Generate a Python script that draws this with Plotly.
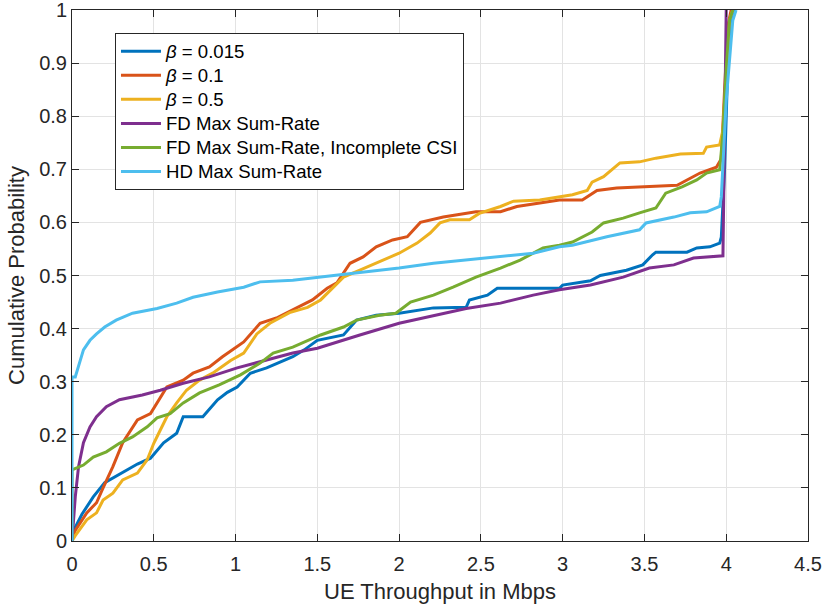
import plotly.graph_objects as go

# ---------------- data ----------------
names = ["<i>β</i> = 0.015", "<i>β</i> = 0.1", "<i>β</i> = 0.5",
         "FD Max Sum-Rate", "FD Max Sum-Rate, Incomplete CSI", "HD Max Sum-Rate"]

blue_x = [0, 0.02, 0.06, 0.13, 0.2, 0.31, 0.4, 0.48, 0.56, 0.64, 0.68, 0.80, 0.89, 0.95, 1.01, 1.09,
          1.19, 1.35, 1.42, 1.50, 1.66, 1.74, 1.86, 2.0, 2.21, 2.41, 2.43, 2.54, 2.60, 2.98, 3.0, 3.17,
          3.23, 3.39, 3.49, 3.55, 3.57, 3.76, 3.82, 3.90, 3.96, 3.97, 3.99, 4.01, 4.03, 4.05]
blue_y = [0, 0.026, 0.05, 0.083, 0.11, 0.13, 0.145, 0.156, 0.185, 0.203, 0.234, 0.234, 0.266, 0.28, 0.29,
          0.316, 0.326, 0.347, 0.36, 0.378, 0.388, 0.416, 0.425, 0.429, 0.439, 0.44, 0.454, 0.463, 0.476,
          0.476, 0.482, 0.49, 0.50, 0.51, 0.52, 0.539, 0.544, 0.544, 0.552, 0.554, 0.561, 0.572, 0.70,
          0.90, 0.98, 1.0]

orange_x = [0, 0.02, 0.09, 0.15, 0.19, 0.25, 0.31, 0.40, 0.48, 0.54, 0.58, 0.68, 0.74, 0.84, 0.92, 1.05,
            1.15, 1.25, 1.35, 1.47, 1.56, 1.62, 1.70, 1.78, 1.86, 1.96, 2.05, 2.13, 2.27, 2.47, 2.62, 2.72,
            2.98, 3.12, 3.21, 3.33, 3.70, 3.78, 3.84, 3.94, 3.97, 3.99, 4.01, 4.03]
orange_y = [0, 0.02, 0.053, 0.072, 0.10, 0.14, 0.185, 0.228, 0.24, 0.27, 0.29, 0.303, 0.316, 0.328, 0.347,
            0.375, 0.41, 0.42, 0.435, 0.454, 0.476, 0.486, 0.523, 0.535, 0.554, 0.567, 0.573, 0.60, 0.61,
            0.62, 0.62, 0.63, 0.642, 0.642, 0.66, 0.665, 0.67, 0.684, 0.693, 0.704, 0.72, 0.85, 0.97, 1.0]

yellow_x = [0, 0.02, 0.09, 0.15, 0.19, 0.25, 0.31, 0.40, 0.46, 0.50, 0.54, 0.58, 0.64, 0.70, 0.78, 0.86,
            0.97, 1.05, 1.13, 1.21, 1.33, 1.44, 1.52, 1.60, 1.66, 1.76, 1.88, 2.0, 2.11, 2.19, 2.25, 2.31,
            2.43, 2.49, 2.62, 2.70, 2.86, 3.06, 3.15, 3.18, 3.25, 3.35, 3.47, 3.57, 3.72, 3.86, 3.88, 3.96,
            3.98, 4.0, 4.02, 4.04]
yellow_y = [0, 0.01, 0.04, 0.053, 0.077, 0.09, 0.115, 0.128, 0.153, 0.184, 0.209, 0.234, 0.26, 0.284,
            0.303, 0.316, 0.34, 0.354, 0.39, 0.41, 0.43, 0.44, 0.454, 0.478, 0.497, 0.51, 0.526, 0.542,
            0.561, 0.58, 0.599, 0.605, 0.605, 0.617, 0.63, 0.64, 0.642, 0.652, 0.66, 0.676, 0.686, 0.712,
            0.714, 0.721, 0.729, 0.73, 0.742, 0.746, 0.774, 0.88, 0.98, 1.0]

purple_x = [0, 0.01, 0.02, 0.04, 0.07, 0.11, 0.15, 0.21, 0.29, 0.43, 0.54, 0.68, 0.84, 1.01, 1.15, 1.35,
            1.50, 1.60, 1.76, 2.0, 2.21, 2.41, 2.62, 2.82, 2.98, 3.17, 3.37, 3.53, 3.68, 3.80, 3.98, 4.0]
purple_y = [0, 0.04, 0.083, 0.14, 0.185, 0.215, 0.234, 0.253, 0.266, 0.275, 0.284, 0.297, 0.309, 0.326,
            0.337, 0.354, 0.363, 0.373, 0.388, 0.41, 0.425, 0.438, 0.448, 0.463, 0.473, 0.482, 0.497,
            0.514, 0.52, 0.533, 0.537, 1.0]

green_x = [0, 0, 0.07, 0.13, 0.21, 0.29, 0.37, 0.46, 0.52, 0.60, 0.68, 0.78, 0.90, 1.03, 1.15, 1.23, 1.35,
           1.45, 1.52, 1.66, 1.74, 1.88, 1.98, 2.07, 2.21, 2.33, 2.47, 2.62, 2.74, 2.88, 2.98, 3.06, 3.18,
           3.25, 3.37, 3.47, 3.57, 3.63, 3.73, 3.82, 3.88, 3.96, 3.98, 4.0, 4.02, 4.04]
green_y = [0, 0.134, 0.143, 0.158, 0.168, 0.184, 0.196, 0.215, 0.232, 0.24, 0.26, 0.279, 0.294, 0.313,
           0.335, 0.354, 0.365, 0.378, 0.388, 0.403, 0.416, 0.425, 0.429, 0.45, 0.463, 0.478, 0.497, 0.514,
           0.529, 0.552, 0.557, 0.563, 0.582, 0.599, 0.608, 0.618, 0.627, 0.655, 0.667, 0.68, 0.693,
           0.699, 0.768, 0.89, 0.98, 1.0]

cyan_x = [0, 0, 0.02, 0.04, 0.07, 0.11, 0.15, 0.20, 0.27, 0.37, 0.52, 0.64, 0.74, 0.89, 1.05, 1.15, 1.35,
          1.60, 1.80, 2.0, 2.21, 2.41, 2.62, 2.82, 2.98, 3.06, 3.27, 3.47, 3.51, 3.68, 3.78, 3.88, 3.96,
          3.97, 4.0, 4.04, 4.06]
cyan_y = [0, 0.309, 0.309, 0.331, 0.36, 0.378, 0.39, 0.403, 0.416, 0.429, 0.438, 0.448, 0.459, 0.469,
          0.478, 0.488, 0.491, 0.50, 0.507, 0.514, 0.523, 0.529, 0.535, 0.542, 0.554, 0.557, 0.573, 0.586,
          0.599, 0.61, 0.618, 0.62, 0.63, 0.648, 0.83, 0.98, 1.0]

x_ticks = [0, 0.5, 1, 1.5, 2, 2.5, 3, 3.5, 4, 4.5]
x_tick_labels = ["0", "0.5", "1", "1.5", "2", "2.5", "3", "3.5", "4", "4.5"]
y_ticks = [0, 0.1, 0.2, 0.3, 0.4, 0.5, 0.6, 0.7, 0.8, 0.9, 1]
y_tick_labels = ["0", "0.1", "0.2", "0.3", "0.4", "0.5", "0.6", "0.7", "0.8", "0.9", "1"]

colors = ["#0072BD", "#D95319", "#EDB120", "#7E2F8E", "#77AC30", "#4DBEEE"]

series = [(blue_x, blue_y), (orange_x, orange_y), (yellow_x, yellow_y),
          (purple_x, purple_y), (green_x, green_y), (cyan_x, cyan_y)]

# ---------------- figure ----------------
FONT = "Liberation Sans, Arial, sans-serif"
TXT = "#262626"

fig = go.Figure()
for (xs, ys), nm, c in zip(series, names, colors):
    fig.add_trace(go.Scatter(x=xs, y=ys, mode="lines",
                             name='<span style="font-size:18.6px">' + nm + '</span>',
                             line=dict(color=c, width=3)))

axis_common = dict(showline=True, linecolor=TXT, linewidth=1, mirror="ticks",
                   ticks="inside", ticklen=7, tickcolor=TXT, tickwidth=1,
                   showgrid=True, gridcolor="#e3e3e3", gridwidth=1, zeroline=False,
                   automargin=False, ticklabeloverflow="allow",
                   tickfont=dict(family=FONT, size=20, color=TXT))

fig.update_layout(
    width=824, height=606,
    margin=dict(l=72, r=16, t=10, b=65),
    paper_bgcolor="white", plot_bgcolor="white",
    font=dict(family=FONT, color=TXT),
    xaxis=dict(range=[0, 4.5], tickvals=x_ticks, ticktext=x_tick_labels,
               ticklabelstandoff=5,
               title=dict(text="UE Throughput in Mbps", font=dict(family=FONT, size=22, color=TXT),
                          standoff=9),
               **axis_common),
    yaxis=dict(range=[0, 1], tickvals=y_ticks, ticktext=y_tick_labels,
               title=dict(text="Cumulative Probability", font=dict(family=FONT, size=22, color=TXT),
                          standoff=8),
               **axis_common),
    legend=dict(x=0.0584, y=0.9563, xanchor="left", yanchor="top",
                bgcolor="white", bordercolor=TXT, borderwidth=1,
                font=dict(family=FONT, size=16.2, color="#000000"),
                itemwidth=40, tracegroupgap=0),
    showlegend=True,
)

fig.write_html("out.html")
